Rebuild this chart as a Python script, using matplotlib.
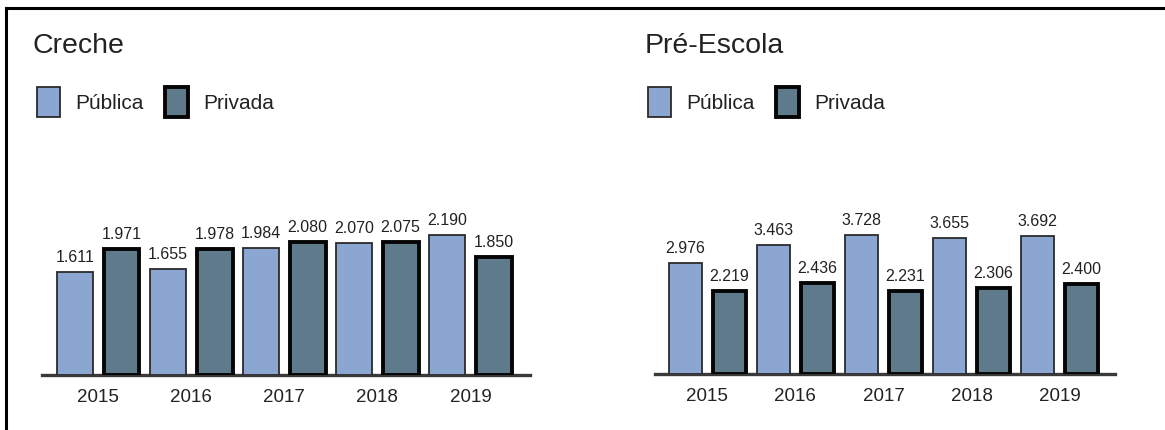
import matplotlib
matplotlib.use("Agg")
from matplotlib import pyplot as plt
from matplotlib.lines import Line2D
import numpy as np

plt.rcParams['font.family'] = ['Liberation Sans', 'DejaVu Sans']

# Data
years = ["2015", "2016", "2017", "2018", "2019"]
series = ["Pública", "Privada"]
creche_publica = [1611, 1655, 1984, 2070, 2190]
creche_privada = [1971, 1978, 2080, 2075, 1850]
pre_publica = [2976, 3463, 3728, 3655, 3692]
pre_privada = [2219, 2436, 2231, 2306, 2400]

# Styles
PUB_FILL = "#8ba6d1"
PRIV_FILL = "#5f7a8b"
PUB_EDGE = "#2b2b2b"
PRIV_EDGE = "#050505"


def fmt(v):
    return f"{v:,}".replace(",", ".")


def draw_panel(ax, pub, priv, width, xlim, title, title_x, leg_x):
    n = len(years)
    idx = np.arange(n)
    x_pub = idx * 2
    x_priv = idx * 2 + 1

    b1 = ax.bar(x_pub, pub, width=width, color=PUB_FILL, edgecolor=PUB_EDGE,
                linewidth=1.3, zorder=3, label=series[0])
    b2 = ax.bar(x_priv, priv, width=width, color=PRIV_FILL, edgecolor=PRIV_EDGE,
                linewidth=2.8, zorder=3, label=series[1])
    ax.bar_label(b1, labels=[fmt(v) for v in pub], padding=5, fontsize=11.5, color="#222222")
    ax.bar_label(b2, labels=[fmt(v) for v in priv], padding=5, fontsize=11.5, color="#222222")

    top = max(max(pub), max(priv))
    ax.set_ylim(0, top * 1.107)
    ax.set_xlim(*xlim)

    for s in ['top', 'right', 'left']:
        ax.spines[s].set_visible(False)
    ax.spines['bottom'].set_color("#3a3a3a")
    ax.spines['bottom'].set_linewidth(2.4)
    ax.spines['bottom'].set_zorder(2)
    ax.set_yticks([])
    ax.set_xticks(idx * 2 + 0.5)
    ax.set_xticklabels(years, fontsize=13.5, color="#222222")
    ax.tick_params(axis='x', length=0, pad=10)

    fig.text(title_x, 0.893, title, fontsize=20.5, color="#222222",
             ha="left", va="center")
    fig.legend(handles=[b1, b2], loc="upper left", bbox_to_anchor=(leg_x, 0.797),
               ncol=2, frameon=False, fontsize=15, borderpad=0, borderaxespad=0,
               handlelength=1.1, handleheight=1.85, handletextpad=0.75,
               columnspacing=1.0, labelcolor="#222222")


fig = plt.figure(figsize=(11.65, 4.30), dpi=100)

ax1 = fig.add_axes([42 / 1165, 55 / 430, 488 / 1165, 155 / 430])
draw_panel(ax1, creche_publica, creche_privada, 0.77, (-0.71, 9.78),
           "Creche", 32 / 1165, 37 / 1165)

ax2 = fig.add_axes([655 / 1165, 56 / 430, 460 / 1165, 154 / 430])
draw_panel(ax2, pre_publica, pre_privada, 0.75, (-0.69, 9.76),
           "Pré-Escola", 645 / 1165, 648 / 1165)

# outer frame (top and left edges)
fig.add_artist(Line2D([6 / 1165, 1.0], [1 - 8 / 430, 1 - 8 / 430],
                      transform=fig.transFigure, color="black", lw=2.2))
fig.add_artist(Line2D([6 / 1165, 6 / 1165], [0.0, 1 - 8 / 430],
                      transform=fig.transFigure, color="black", lw=2.2))

fig.savefig("out.png", dpi=100, facecolor="white")
